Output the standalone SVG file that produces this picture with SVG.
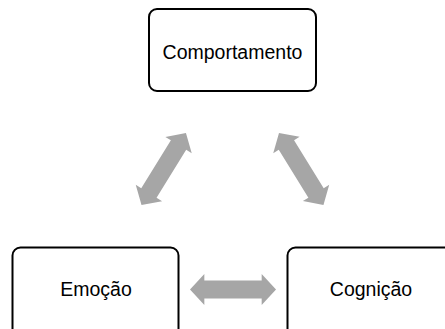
<svg xmlns="http://www.w3.org/2000/svg" width="445" height="329" viewBox="0 0 445 329">
<style>
.box{fill:#fff;stroke:#000;stroke-width:2}
.lbl{font-family:"Liberation Sans",Arial,sans-serif;font-size:19.5px;fill:#000;text-anchor:middle}
.arr{fill:#a6a6a6}
</style>
<defs>
<polygon id="dbl" points="0,0 14,-15.5 14,-9 70,-9 70,-15.5 84,0 70,15.5 70,9 14,9 14,15.5"/>
</defs>
<rect width="445" height="329" fill="#fff"/>
<g id="connectors">
<use href="#dbl" class="arr" transform="translate(190,289.5) scale(1.024,1)"/>
<use href="#dbl" class="arr" transform="translate(141.5,205) rotate(-58.3) scale(1.007,1)"/>
<use href="#dbl" class="arr" transform="translate(279,133) rotate(58.3) scale(1.007,1)"/>
</g>
<g id="comportamento">
<rect class="box" x="149" y="9" width="167" height="82" rx="8"/>
<text class="lbl" x="232.5" y="59">Comportamento</text>
</g>
<g id="emocao">
<rect class="box" x="12.5" y="247.5" width="166" height="90" rx="8"/>
<text class="lbl" x="96" y="296">Emoção</text>
</g>
<g id="cognicao">
<rect class="box" x="287.5" y="247.5" width="166" height="90" rx="8"/>
<text class="lbl" x="371" y="296">Cognição</text>
</g>
</svg>
